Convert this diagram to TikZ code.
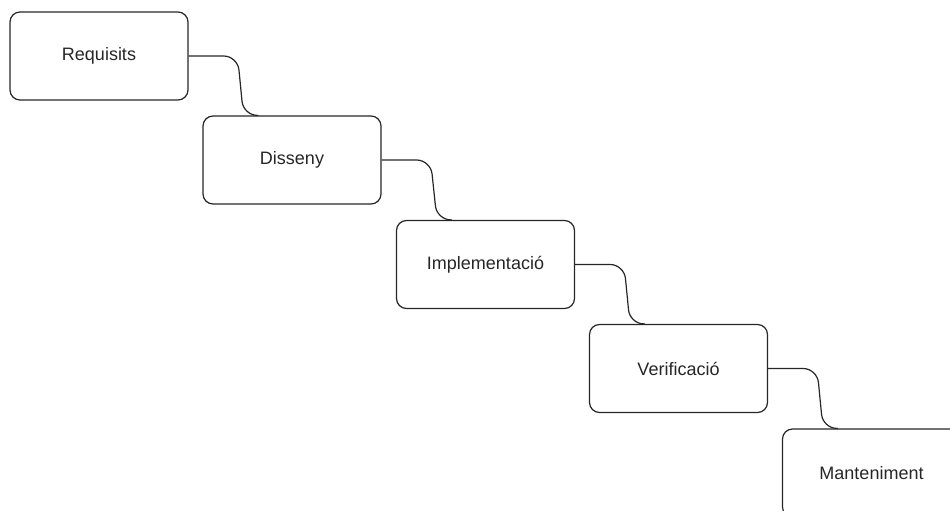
\documentclass[tikz,border=0pt]{standalone}
\usepackage{fontspec}
\setmainfont{Liberation Sans}
\usetikzlibrary{calc}
\begin{document}
\begin{tikzpicture}[x=1pt,y=-1pt,
  phase/.style={draw=black!85, line width=1.2pt, rounded corners=10pt,
    minimum width=178pt, minimum height=88pt, inner sep=0pt,
    font=\fontsize{18}{20}\selectfont, text=black!85},
  flow/.style={draw=black!85, line width=1.2pt, rounded corners=14pt}]
  \useasboundingbox (0,0) rectangle (950,511);
  \clip (0,0) rectangle (950,511);
  % waterfall stages
  \node[phase] (b1) at (99,56)      {Requisits};
  \node[phase] (b2) at (292,160)    {Disseny};
  \node[phase] (b3) at (485.5,264.5) {Implementació};
  \node[phase] (b4) at (678.5,368.5) {Verificació};
  \node[phase] (b5) at (871.5,473)  {Manteniment};
  % links between consecutive stages
  \foreach \a/\b in {b1/b2, b2/b3, b3/b4, b4/b5}{
    \draw[flow] (\a.east) -- ++(49,0) -- ($(\b.north west)+(41,0)$)
      -- ($(\b.north west)+(56,0)$);
  }
\end{tikzpicture}
\end{document}
